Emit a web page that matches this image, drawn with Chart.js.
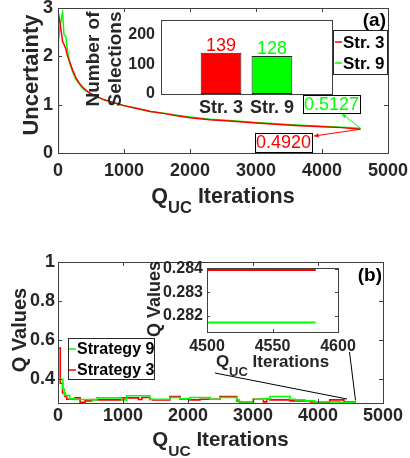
<!DOCTYPE html>
<html>
<head>
<meta charset="utf-8">
<script src="https://cdn.jsdelivr.net/npm/chart.js@4.4.0/dist/chart.umd.min.js"></script>
<style>
    html, body { margin: 0; padding: 0; background: #fff; }
    #wrap { position: relative; width: 410px; height: 458px; overflow: hidden; }
    #wrap canvas { position: absolute; left: 0; top: 0; }
</style>
</head>
<body>
<div id="wrap">
    <canvas id="mainA" width="410" height="458"></canvas>
    <canvas id="insetA" width="410" height="458"></canvas>
    <canvas id="mainB" width="410" height="458"></canvas>
    <canvas id="insetB" width="410" height="458"></canvas>
</div>
<script>
// Panel (a) : incertitude par iteration
const iterA = [0, 5, 30, 60, 70, 90, 120, 135, 160, 180, 220, 270, 320, 380, 450, 520, 600, 700, 800, 900, 1000, 1200, 1400, 1600, 1800, 2000, 2300, 2600, 3000, 3300, 3600, 4000, 4300, 4583];
const uncStr3 = [0, 2.9, 2.7, 2.4, 2.3, 2.25, 2.15, 2.05, 1.95, 1.87, 1.72, 1.56, 1.45, 1.35, 1.27, 1.21, 1.16, 1.1, 1.06, 1.02, 0.98, 0.92, 0.86, 0.82, 0.77, 0.73, 0.69, 0.66, 0.62, 0.595, 0.57, 0.545, 0.525, 0.492];
const uncStr9 = [0, 2.3, 2.6, 2.85, 2.9, 2.45, 2.4, 2.2, 2.0, 1.85, 1.69, 1.53, 1.43, 1.33, 1.26, 1.2, 1.15, 1.1, 1.06, 1.02, 0.98, 0.92, 0.86, 0.82, 0.78, 0.745, 0.7, 0.67, 0.63, 0.605, 0.58, 0.555, 0.535, 0.5127];
const xTicksA = [0, 1000, 2000, 3000, 4000, 5000];
const yTicksA = [0, 1, 2, 3];

// Encart (a) : nombre de selections
const barLabels = ['Str. 3', 'Str. 9'];
const barCounts = [139, 128];
const barColors = ['#ff0000', '#00ff00'];
const yTicksBar = [0, 100, 200];

// Panel (b) : Q values (marches)
const iterStr9B = [0, 75, 95, 120, 180, 262, 520, 600, 979, 1056, 1415, 1490, 1723, 1877, 2031, 2340, 2490, 2749, 2790, 3005, 3160, 3262, 3570, 3650, 3800, 3950, 4330, 4470, 4583];
const qStr9B = [0.575, 0.4, 0.35, 0.32, 0.317, 0.3, 0.297, 0.295, 0.305, 0.295, 0.316, 0.298, 0.298, 0.307, 0.3, 0.307, 0.298, 0.307, 0.295, 0.285, 0.298, 0.3, 0.312, 0.298, 0.295, 0.29, 0.285, 0.28172, 0.28172];
const iterStr3B = [0, 35, 70, 105, 135, 260, 340, 415, 520, 600, 980, 1240, 1290, 1410, 1460, 1720, 1880, 1930, 2030, 2185, 2490, 2750, 2790, 3005, 3160, 3210, 3262, 3570, 3880, 4000, 4180, 4400, 4460, 4583];
const qStr3B = [1.0, 0.56, 0.38, 0.33, 0.312, 0.298, 0.305, 0.283, 0.29, 0.297, 0.295, 0.305, 0.297, 0.307, 0.297, 0.295, 0.312, 0.298, 0.3, 0.295, 0.298, 0.312, 0.29, 0.285, 0.298, 0.285, 0.298, 0.295, 0.29, 0.285, 0.283, 0.295, 0.28396, 0.28396];
const xTicksB = [0, 1000, 2000, 3000, 4000, 5000];
const yTicksB = [0.4, 0.6, 0.8, 1];

// Encart (b) : zoom sur la fin
const xTicksZoom = [4500, 4550, 4600];
const yTicksZoom = [0.282, 0.283, 0.284];

const FONT = '"Liberation Sans", Arial, Helvetica, sans-serif';
const AXIS = '#262626';
const FRAME = '#404040';
const RED = '#ff0000';
const GREEN = '#00ff00';

Chart.defaults.font.family = FONT;
Chart.defaults.color = AXIS;

function pts(xs, ys) {
    return xs.map((x, i) => ({ x: x, y: ys[i] }));
}

/**
 * Axe lineaire avec taille fixe (pour placer la zone de trace au pixel pres)
 */
function axis(min, max, ticks, size, pad, fontSize, fmt) {
    return {
        type: 'linear',
        min: min,
        max: max,
        grid: { display: false, drawTicks: false },
        border: { display: false },
        afterBuildTicks: s => { s.ticks = ticks.map(v => ({ value: v })); },
        afterFit: s => {
            if (s.isHorizontal()) s.height = size; else s.width = size;
            s.paddingLeft = s.paddingRight = s.paddingTop = s.paddingBottom = 0;
        },
        ticks: {
            padding: pad,
            color: AXIS,
            autoSkip: false,
            maxRotation: 0,
            font: { size: fontSize, weight: 'bold', lineHeight: 1 },
            callback: fmt || (v => String(v))
        }
    };
}

function arrowHead(ctx, from, to, len) {
    const ang = Math.atan2(to[1] - from[1], to[0] - from[0]);
    ctx.beginPath();
    ctx.moveTo(to[0], to[1]);
    ctx.lineTo(to[0] - len * Math.cos(ang - 0.45), to[1] - len * Math.sin(ang - 0.45));
    ctx.lineTo(to[0] - len * Math.cos(ang + 0.45), to[1] - len * Math.sin(ang + 0.45));
    ctx.closePath();
    ctx.fill();
}

/**
 * Cadre facon MATLAB : fond, ticks internes, boite, titres, legende, annotations
 */
const decor = {
    id: 'decor',
    beforeDraw(chart, args, o) {
        if (!o.fill) return;
        const a = chart.chartArea, ctx = chart.ctx;
        ctx.save();
        ctx.fillStyle = o.fill;
        ctx.fillRect(a.left, a.top, a.right - a.left, a.bottom - a.top);
        ctx.restore();
    },
    afterDraw(chart, args, o) {
        const ctx = chart.ctx, a = chart.chartArea;
        const xs = chart.scales.x, ys = chart.scales.y;
        ctx.save();
        ctx.lineWidth = 1;
        ctx.strokeStyle = FRAME;

        if (o.tick) {
            ctx.beginPath();
            xs.ticks.forEach(t => {
                const p = Math.round(xs.getPixelForValue(t.value)) + 0.5;
                ctx.moveTo(p, a.bottom); ctx.lineTo(p, a.bottom - o.tick);
                ctx.moveTo(p, a.top); ctx.lineTo(p, a.top + o.tick);
            });
            ys.ticks.forEach(t => {
                const p = Math.round(ys.getPixelForValue(t.value)) + 0.5;
                ctx.moveTo(a.left, p); ctx.lineTo(a.left + o.tick, p);
                ctx.moveTo(a.right, p); ctx.lineTo(a.right - o.tick, p);
            });
            ctx.stroke();
        }
        ctx.strokeRect(Math.round(a.left) + 0.5, Math.round(a.top) + 0.5,
            Math.round(a.right - a.left), Math.round(a.bottom - a.top));

        // Titre de l'axe x avec indice
        if (o.xTitle) {
            const t = o.xTitle;
            const big = `bold ${t.size}px ${FONT}`, small = `bold ${t.sub}px ${FONT}`;
            ctx.font = big;
            const w1 = ctx.measureText(t.parts[0]).width, w3 = ctx.measureText(t.parts[2]).width;
            ctx.font = small;
            const w2 = ctx.measureText(t.parts[1]).width;
            const x0 = (a.left + a.right) / 2 - (w1 + w2 + w3) / 2;
            ctx.fillStyle = AXIS;
            ctx.textAlign = 'left';
            ctx.textBaseline = 'alphabetic';
            ctx.font = big; ctx.fillText(t.parts[0], x0, t.y);
            ctx.font = small; ctx.fillText(t.parts[1], x0 + w1, t.y + t.drop);
            ctx.font = big; ctx.fillText(t.parts[2], x0 + w1 + w2, t.y);
        }

        // Titre de l'axe y (une ou deux lignes)
        if (o.yTitle) {
            const t = o.yTitle;
            ctx.save();
            ctx.translate(t.x, t.cy);
            ctx.rotate(-Math.PI / 2);
            ctx.font = `bold ${t.size}px ${FONT}`;
            ctx.fillStyle = AXIS;
            ctx.textAlign = 'center';
            ctx.textBaseline = 'alphabetic';
            t.lines.forEach((s, i) => ctx.fillText(s, 0, i * (t.gap || 0)));
            ctx.restore();
        }

        // Valeurs au-dessus des barres
        if (o.barValues) {
            const meta = chart.getDatasetMeta(0);
            ctx.font = `${o.barValues.size}px ${FONT}`;
            ctx.textAlign = 'center';
            ctx.textBaseline = 'alphabetic';
            meta.data.forEach((el, i) => {
                ctx.fillStyle = o.barValues.colors[i];
                ctx.fillText(String(chart.data.datasets[0].data[i].y), el.x, el.y - 2);
            });
        }

        // Lignes de liaison vers l'encart
        (o.links || []).forEach(l => {
            ctx.strokeStyle = '#000';
            ctx.beginPath();
            ctx.moveTo(l.from[0], l.from[1]);
            ctx.lineTo(xs.getPixelForValue(l.to.x), ys.getPixelForValue(l.to.y));
            ctx.stroke();
        });

        // Annotations avec fleche
        (o.notes || []).forEach(n => {
            const px = xs.getPixelForValue(n.at.x), py = ys.getPixelForValue(n.at.y);
            ctx.strokeStyle = n.color;
            ctx.fillStyle = n.color;
            ctx.lineWidth = 1;
            ctx.beginPath();
            ctx.moveTo(px, py);
            ctx.lineTo(n.from[0], n.from[1]);
            ctx.stroke();
            arrowHead(ctx, [px, py], n.from, 5);
            const b = n.box;
            ctx.fillStyle = '#fff';
            ctx.fillRect(b[0], b[1], b[2] - b[0], b[3] - b[1]);
            ctx.strokeStyle = '#000';
            ctx.strokeRect(b[0] + 0.5, b[1] + 0.5, b[2] - b[0], b[3] - b[1]);
            ctx.fillStyle = n.color;
            ctx.font = `${n.size}px ${FONT}`;
            ctx.textAlign = 'center';
            ctx.textBaseline = 'middle';
            ctx.fillText(n.text, (b[0] + b[2]) / 2, (b[1] + b[3]) / 2 + 1);
        });

        // Legende
        if (o.legend) {
            const L = o.legend, b = L.box;
            ctx.fillStyle = '#fff';
            ctx.fillRect(b[0], b[1], b[2] - b[0], b[3] - b[1]);
            ctx.strokeStyle = '#262626';
            ctx.lineWidth = 1;
            ctx.strokeRect(b[0] + 0.5, b[1] + 0.5, b[2] - b[0], b[3] - b[1]);
            ctx.font = `bold ${L.size}px ${FONT}`;
            ctx.textAlign = 'left';
            ctx.textBaseline = 'middle';
            chart.data.datasets.forEach((ds, i) => {
                const y = L.rows[i];
                ctx.strokeStyle = ds.borderColor;
                ctx.lineWidth = 1.5;
                ctx.beginPath();
                ctx.moveTo(L.sample[0], y);
                ctx.lineTo(L.sample[1], y);
                ctx.stroke();
                ctx.fillStyle = '#000';
                ctx.fillText(ds.label, L.textX, y + 1);
            });
        }

        // Etiquette du panneau
        if (o.tag) {
            ctx.font = `bold ${o.tag.size}px ${FONT}`;
            ctx.fillStyle = '#000';
            ctx.textAlign = 'right';
            ctx.textBaseline = 'middle';
            ctx.fillText(o.tag.text, o.tag.x, o.tag.y);
        }
        ctx.restore();
    }
};

const COMMON = {
    responsive: false,
    animation: false,
    devicePixelRatio: 1,
    events: [],
    elements: { point: { radius: 0 }, line: { tension: 0 } }
};

// Panel (a)
new Chart(document.getElementById('mainA'), {
    type: 'line',
    data: {
        datasets: [
            { label: 'Str. 3', data: pts(iterA, uncStr3), borderColor: RED, borderWidth: 1.5 },
            { label: 'Str. 9', data: pts(iterA, uncStr9), borderColor: GREEN, borderWidth: 1.5 }
        ]
    },
    options: {
        ...COMMON,
        layout: { padding: { top: 8, right: 22, left: 0, bottom: 0 } },
        scales: {
            x: axis(0, 5000, xTicksA, 305, 9, 18),
            y: axis(0, 3, yTicksA, 58, 5, 18)
        },
        plugins: {
            legend: { display: false },
            tooltip: { enabled: false },
            decor: {
                tick: 4,
                xTitle: { parts: ['Q', 'UC', ' Iterations'], size: 21.5, sub: 16.5, y: 203, drop: 10 },
                yTitle: { lines: ['Uncertainty'], size: 22, x: 38, cy: 75 },
                legend: { box: [333, 30, 387, 74], rows: [42, 63], sample: [335, 342], textX: 343, size: 17 },
                tag: { text: '(a)', size: 19, x: 386, y: 21 },
                notes: [
                    { text: '0.5127', color: GREEN, size: 18, box: [303, 95, 360, 113], from: [342, 114], at: { x: iterA[iterA.length - 1], y: uncStr9[uncStr9.length - 1] } },
                    { text: '0.4920', color: RED, size: 18, box: [255, 133, 312, 152], from: [314, 136], at: { x: iterA[iterA.length - 1], y: uncStr3[uncStr3.length - 1] } }
                ]
            }
        }
    },
    plugins: [decor]
});

// Encart (a) : barres
new Chart(document.getElementById('insetA'), {
    type: 'bar',
    data: {
        datasets: [{
            data: barCounts.map((c, i) => ({ x: i + 1, y: c })),
            backgroundColor: barColors,
            borderColor: '#222',
            borderWidth: 1,
            borderSkipped: false,
            barPercentage: 1,
            categoryPercentage: 0.8
        }]
    },
    options: {
        ...COMMON,
        layout: { padding: { top: 20, right: 78, left: 0, bottom: 0 } },
        scales: {
            x: { ...axis(-0.18, 3.18, [1, 2], 364, 5, 18, v => barLabels[v - 1] || ''), offset: false },
            y: axis(0, 250, yTicksBar, 161, 6, 16)
        },
        plugins: {
            legend: { display: false },
            tooltip: { enabled: false },
            decor: {
                fill: '#fff',
                tick: 0,
                yTitle: { lines: ['Number of', 'Selections'], size: 19, gap: 22, x: 99, cy: 59 },
                barValues: { colors: barColors, size: 18 }
            }
        }
    },
    plugins: [decor]
});

// Panel (b)
const datasetsB = () => [
    { label: 'Strategy 9', data: pts(iterStr9B, qStr9B), borderColor: GREEN, borderWidth: 1.6, stepped: 'after' },
    { label: 'Strategy 3', data: pts(iterStr3B, qStr3B), borderColor: RED, borderWidth: 1.6, stepped: 'after' }
];

new Chart(document.getElementById('mainB'), {
    type: 'line',
    data: { datasets: datasetsB() },
    options: {
        ...COMMON,
        layout: { padding: { top: 262, right: 27, left: 0, bottom: 0 } },
        scales: {
            x: axis(0, 5000, xTicksB, 55, 4, 18),
            y: axis(0.279, 1, yTicksB, 58, 3, 18)
        },
        plugins: {
            legend: { display: false },
            tooltip: { enabled: false },
            decor: {
                tick: 4,
                xTitle: { parts: ['Q', 'UC', ' Iterations'], size: 20.5, sub: 15.5, y: 446, drop: 10 },
                yTitle: { lines: ['Q Values'], size: 20, x: 26, cy: 330 },
                legend: { box: [68, 338, 154, 379], rows: [349, 370], sample: [69, 76], textX: 77, size: 16 },
                tag: { text: '(b)', size: 19, x: 382, y: 276 },
                links: [
                    { from: [215, 373], to: { x: 4446, y: 0.2995 } },
                    { from: [349.5, 352], to: { x: 4577, y: 0.292 } }
                ]
            }
        }
    },
    plugins: [decor]
});

// Encart (b) : zoom 4500-4600
const zoomSets = datasetsB().map(d => ({ ...d, borderWidth: 2 }));
new Chart(document.getElementById('insetB'), {
    type: 'line',
    data: { datasets: zoomSets },
    options: {
        ...COMMON,
        layout: { padding: { top: 268, right: 72, left: 0, bottom: 0 } },
        scales: {
            x: axis(4500, 4600, xTicksZoom, 126, 7, 16),
            y: axis(0.28132, 0.28404, yTicksZoom, 207, 4, 16)
        },
        plugins: {
            legend: { display: false },
            tooltip: { enabled: false },
            decor: {
                fill: '#fff',
                tick: 3,
                xTitle: { parts: ['Q', 'UC', ' Iterations'], size: 17, sub: 13, y: 367, drop: 9 },
                yTitle: { lines: ['Q Values'], size: 18, x: 160, cy: 299 }
            }
        }
    },
    plugins: [decor]
});
</script>
</body>
</html>
